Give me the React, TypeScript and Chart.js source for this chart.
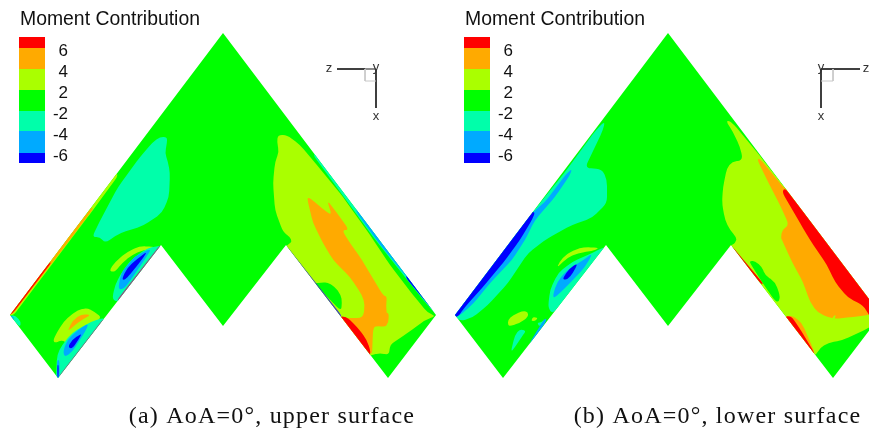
import React, { useEffect, useRef } from "react";
import { Chart, registerables } from "chart.js";

Chart.register(...registerables);

type Pt = [number, number];

const RED = "#ff0000", ORANGE = "#ffaa00", LIME = "#aaff00", GREEN = "#00ff00", TEAL = "#00ffaa", BLUE = "#00aaff", NAVY = "#0000ff";

const legendColors = [RED, ORANGE, LIME, GREEN, TEAL, BLUE, NAVY];
const legendEdges = [37, 48, 69, 90, 111, 131, 153, 163];
const legendLabels = ["6", "4", "2", "-2", "-4", "-6"];
const legendTitle = "Moment Contribution";
const captions = ["(a) AoA=0°, upper surface", "(b) AoA=0°, lower surface"];

// ---- upper surface contours ----
const upperWing: Pt[] = [[223, 33], [436, 315], [388, 378], [286, 245], [223, 326], [161, 245], [58, 378], [10, 315]];
const upperLeLime: Pt[] = [[116, 172], [5, 315], [13, 316], [90, 214], [118, 176]];
const upperLeOrange: Pt[] = [[92, 207], [5, 315], [12, 315], [59, 254], [93, 209]];
const upperLeRed: Pt[] = [[50, 262], [5, 315], [11.5, 315], [51, 263]];
const upperTipTeal: Pt[] = [[10, 315], [16, 316], [21, 322], [20, 327], [15, 322]];
const upperTipBlue: Pt[] = [[9, 315], [14, 317], [14, 321]];
const upperBlob: Pt[] = [[160, 137], [167, 137], [167, 143], [165, 153], [168, 162], [170, 173], [169, 197], [162, 213], [143, 226], [120, 233], [105, 243], [100, 237], [92, 237], [102, 217], [118, 187], [140, 157], [153, 142]];
const upperOuterLime: Pt[] = [[53, 340], [60, 327], [67, 318], [78, 310], [87, 308], [95, 312], [102, 318], [90, 325], [70, 345], [62, 340], [55, 343]];
const upperOuterOrange: Pt[] = [[67, 332], [73, 320], [82, 314], [91, 315], [83, 319], [75, 325]];
const upperOuterTeal: Pt[] = [[103, 318], [90, 322], [72, 333], [62, 345], [57, 355], [56, 380], [60, 380], [106, 320]];
const upperOuterBlue: Pt[] = [[63, 352], [67, 340], [78, 330], [89, 323], [85, 332], [72, 352], [65, 357]];
const upperOuterBlueStrip: Pt[] = [[57, 360], [59.5, 360], [59.5, 378], [57, 378]];
const upperOuterNavy: Pt[] = [[68, 347], [72, 340], [82, 333], [79, 339], [72, 349]];
const upperOuterNavyStrip: Pt[] = [[57.3, 365], [58.7, 365], [58.5, 378], [57.5, 378]];
const upperInnerLime: Pt[] = [[109, 271], [115, 262], [127, 252], [140, 246], [155, 247], [157, 248], [143, 250], [132, 255], [122, 263], [115, 272]];
const upperInnerTeal: Pt[] = [[112, 300], [115, 285], [123, 270], [133, 258], [148, 248], [158, 246], [163, 246], [120, 302]];
const upperInnerBlue: Pt[] = [[118, 290], [121, 273], [135, 256], [152, 248], [143, 262], [125, 288]];
const upperInnerNavy: Pt[] = [[122, 279], [127, 268], [137, 259], [148, 251], [140, 262], [128, 277], [124, 280]];
const upperTeEdgeA: Pt[] = [[160, 245], [162, 247], [119, 302], [117, 300]];
const upperTeEdgeB: Pt[] = [[103, 319], [104, 321], [60, 378], [59, 376]];
const upperRightTeal: Pt[] = [[313, 155], [316, 152], [442, 315], [434, 313], [420, 296], [374, 238]];
const upperRightBlue: Pt[] = [[355, 210], [360, 207], [442, 315], [435, 313], [422, 296], [376.5, 240]];
const upperRightNavy: Pt[] = [[405, 277], [409, 275], [442, 315], [436, 314]];
const upperLime: Pt[] = [[278, 135], [287, 135], [300, 145], [317, 165], [343, 197], [370, 235], [390, 265], [413, 295], [428, 313], [436, 316], [425, 320], [412, 330], [397, 340], [390, 345], [389, 355], [380, 353], [372, 355], [365, 358], [285, 250], [287, 245], [292, 242], [290, 237], [283, 232], [275, 210], [273, 183], [275, 162], [279, 152], [277, 142]];
const upperGreenBlob: Pt[] = [[321, 283], [327, 282], [335, 287], [341, 295], [342, 303], [341, 311], [314, 283]];
const upperOrange: Pt[] = [[307, 198], [310, 198], [318, 205], [332, 216], [327, 200], [340, 217], [349, 230], [342, 230], [348, 240], [362, 260], [372, 277], [383, 295], [387, 297], [386, 305], [388, 327], [375, 326], [373, 330], [372, 356], [338, 318], [363, 318], [365, 305], [362, 295], [350, 277], [333, 260], [323, 243], [313, 223]];
const upperOrangeFleck: Pt[] = [[386, 312], [389, 314], [388, 324], [386, 322]];
const upperRed: Pt[] = [[342, 316], [348, 318], [358, 328], [367, 340], [371, 353], [368, 358], [338, 318]];
const upperRightEdge: Pt[] = [[286, 245], [342, 316], [340, 318], [284, 247]];

// ---- lower surface contours ----
const lowerWing: Pt[] = [[668, 33], [881, 315], [833, 378], [731, 245], [668, 326], [606, 245], [503, 378], [455, 315]];
const lowerTeal: Pt[] = [[605, 121], [603, 130], [585, 168], [602, 169], [607, 180], [607, 203], [592, 218], [572, 225], [548, 238], [528, 253], [508, 283], [488, 305], [472, 318], [460, 321], [455, 316], [450, 315], [565, 172], [596, 130]];
const lowerBlue: Pt[] = [[572, 169], [570, 175], [555, 197], [535, 220], [525, 240], [512, 260], [490, 283], [474, 303], [458, 317], [450, 315], [533, 212], [545, 202], [567, 173]];
const lowerNavy: Pt[] = [[535, 212], [533, 218], [520, 240], [503, 263], [482, 288], [465, 307], [457, 318], [450, 315], [530, 212]];
const lowerInnerLime: Pt[] = [[557, 267], [562, 258], [573, 250], [585, 247], [600, 248], [592, 251], [578, 253], [567, 258], [560, 265]];
const lowerInnerTeal: Pt[] = [[548, 308], [550, 290], [558, 273], [572, 262], [592, 253], [600, 249], [606, 247], [553, 314]];
const lowerInnerBlue: Pt[] = [[553, 295], [557, 282], [567, 270], [582, 261], [593, 253], [585, 267], [573, 280], [560, 293], [554, 298]];
const lowerInnerNavy: Pt[] = [[562, 279], [570, 268], [578, 263], [573, 273], [567, 280]];
const lowerOuterLime: Pt[] = [[508, 325], [508, 320], [513, 315], [523, 311], [528, 312], [528, 317], [520, 323], [510, 326]];
const lowerOuterFleck: Pt[] = [[531, 321], [533, 317], [538, 318], [535, 321]];
const lowerOuterTeal: Pt[] = [[511, 351], [515, 335], [520, 329], [526, 331], [523, 335], [513, 350]];
const lowerTeTeal: Pt[] = [[537, 323], [542, 322], [545, 318], [540, 327]];
const lowerTeBlue: Pt[] = [[530, 342], [545, 318], [547, 320], [531, 344]];
const lowerLime: Pt[] = [[726, 121], [730, 121], [737, 128], [760, 156], [782, 184], [790, 193], [795, 190], [885, 315], [869, 328], [843, 340], [828, 343], [820, 348], [816, 355], [812, 356], [728, 247], [732, 245], [735, 243], [737, 238], [730, 230], [725, 220], [722, 203], [723, 187], [727, 168], [732, 162], [743, 160], [740, 147], [733, 132]];
const lowerOrange: Pt[] = [[757, 159], [760, 159], [785, 189], [790, 189], [880, 310], [869, 315], [853, 317], [833, 319], [818, 313], [810, 302], [803, 282], [792, 262], [782, 240], [781, 238], [782, 230], [789, 225], [780, 205], [767, 180]];
const lowerRed: Pt[] = [[782, 192], [785, 188], [890, 320], [872, 320], [863, 305], [848, 298], [835, 282], [827, 265], [810, 240], [800, 223]];
const lowerFleck: Pt[] = [[832, 318], [835, 315], [836, 316], [833, 321]];
const lowerTeOrange: Pt[] = [[787, 316], [793, 316], [802, 323], [808, 337], [815, 353], [812, 356], [784, 318]];
const lowerTeRed: Pt[] = [[787, 316], [792, 317], [802, 332], [815, 354], [812, 356], [784, 318]];
const lowerGreenBlob: Pt[] = [[750, 261], [755, 261], [762, 267], [765, 275], [775, 282], [780, 295], [779, 302], [775, 301], [762, 282], [750, 263]];
const lowerTeEdge: Pt[] = [[731, 245], [763, 283], [762, 285], [729, 247]];

const upperLayers: [Pt[], string][] = [
  [upperLeLime, LIME], [upperLeOrange, ORANGE], [upperLeRed, RED], [upperTipTeal, TEAL], [upperTipBlue, BLUE],
  [upperBlob, TEAL], [upperOuterLime, LIME], [upperOuterOrange, ORANGE], [upperOuterTeal, TEAL], [upperOuterBlue, BLUE],
  [upperOuterBlueStrip, BLUE], [upperOuterNavy, NAVY], [upperOuterNavyStrip, NAVY], [upperInnerLime, LIME], [upperInnerTeal, TEAL],
  [upperInnerBlue, BLUE], [upperInnerNavy, NAVY], [upperTeEdgeA, "#a04080"], [upperTeEdgeB, "#a04080"], [upperLime, LIME],
  [upperGreenBlob, GREEN], [upperOrange, ORANGE], [upperOrangeFleck, ORANGE], [upperRed, RED], [upperRightEdge, "#4030d0"],
  [upperRightTeal, TEAL], [upperRightBlue, BLUE], [upperRightNavy, NAVY],
];
const lowerLayers: [Pt[], string][] = [
  [lowerTeal, TEAL], [lowerBlue, BLUE], [lowerNavy, NAVY], [lowerInnerLime, LIME], [lowerInnerTeal, TEAL], [lowerInnerBlue, BLUE],
  [lowerInnerNavy, NAVY], [lowerOuterLime, LIME], [lowerOuterFleck, LIME], [lowerOuterTeal, TEAL], [lowerTeTeal, TEAL], [lowerTeBlue, BLUE],
  [lowerLime, LIME], [lowerOrange, ORANGE], [lowerRed, RED], [lowerFleck, LIME], [lowerTeOrange, ORANGE], [lowerTeRed, RED],
  [lowerGreenBlob, GREEN], [lowerTeEdge, RED],
];

// ---- orientation triads ----
const upperTriadZ: Pt[] = [[337, 69], [365, 69]];
const upperTriadZShade: Pt[] = [[365, 69], [376, 69]];
const upperTriadX: Pt[] = [[376, 69], [376, 108]];
const upperTriadBox: Pt[] = [[365, 69], [365, 81], [376, 81]];
const lowerTriadZ: Pt[] = [[821, 69], [860, 69]];
const lowerTriadX: Pt[] = [[821, 69], [821, 108]];
const lowerTriadBox: Pt[] = [[833, 69], [833, 81], [821, 81]];
const triadLabels: [string, number, number][] = [["z", 329, 68], ["y", 376, 67], ["x", 376, 116], ["z", 866, 68], ["y", 821, 67], ["x", 821, 116]];

// ---- legend positions per panel ----
const legendX: [number, number][] = [[19, 45], [464, 490]];
const legendLabelX = [68, 513];
const legendTitleX = [20, 465];
const captionX = [272, 717.5];

const toXY = (p: Pt[]) => p.map(([x, y]) => ({ x, y }));

export default function App() {
  const ref = useRef<HTMLCanvasElement>(null);
  useEffect(() => {
    const datasets: any[] = [];
    const poly = (pts: Pt[], color: string, clip: Pt[] | null) =>
      datasets.push({ data: toXY(pts), polyColor: color, clipTo: clip, showLine: false, pointRadius: 0 });
    const line = (pts: Pt[], color: string, width: number) =>
      datasets.push({ data: toXY(pts), showLine: true, borderColor: color, borderWidth: width, pointRadius: 0, fill: false, order: -1 });

    poly(upperWing, GREEN, null);
    upperLayers.forEach(([p, c]) => poly(p, c, upperWing));
    poly(lowerWing, GREEN, null);
    lowerLayers.forEach(([p, c]) => poly(p, c, lowerWing));
    legendX.forEach(([a, b]) => {
      legendColors.forEach((c, i) => {
        const top = legendEdges[i], bot = legendEdges[i + 1];
        poly([[a, top], [b, top], [b, bot], [a, bot]], c, null);
      });
    });
    line(upperTriadBox, "#c8c8c8", 1);
    line(lowerTriadBox, "#c8c8c8", 1);
    line(upperTriadZ, "#000000", 1.5);
    line(upperTriadZShade, "#666666", 1.5);
    line(upperTriadX, "#000000", 1.5);
    line(lowerTriadZ, "#000000", 1.5);
    line(lowerTriadX, "#000000", 1.5);

    const polygons = {
      id: "polygons",
      beforeDatasetsDraw(chart: any) {
        const { ctx, scales } = chart;
        const px = (p: { x: number; y: number }): Pt => [scales.x.getPixelForValue(p.x), scales.y.getPixelForValue(p.y)];
        const trace = (pts: { x: number; y: number }[]) => {
          ctx.beginPath();
          pts.forEach((p, i) => {
            const [X, Y] = px(p);
            if (i === 0) ctx.moveTo(X, Y);
            else ctx.lineTo(X, Y);
          });
          ctx.closePath();
        };
        // contour outline with softened corners, as a contour plot has
        const traceRound = (pts: { x: number; y: number }[], r: number) => {
          const P = pts.map(px);
          const n = P.length;
          ctx.beginPath();
          P.forEach((v, i) => {
            const a = P[(i + n - 1) % n], b = P[(i + 1) % n];
            const la = Math.hypot(a[0] - v[0], a[1] - v[1]), lb = Math.hypot(b[0] - v[0], b[1] - v[1]);
            const ra = Math.min(r, la * 0.45), rb = Math.min(r, lb * 0.45);
            const s: Pt = [v[0] + ((a[0] - v[0]) * ra) / la, v[1] + ((a[1] - v[1]) * ra) / la];
            const e: Pt = [v[0] + ((b[0] - v[0]) * rb) / lb, v[1] + ((b[1] - v[1]) * rb) / lb];
            if (i === 0) ctx.moveTo(s[0], s[1]);
            else ctx.lineTo(s[0], s[1]);
            ctx.quadraticCurveTo(v[0], v[1], e[0], e[1]);
          });
          ctx.closePath();
        };
        chart.data.datasets.forEach((d: any) => {
          if (!d.polyColor) return;
          ctx.save();
          if (d.clipTo) {
            trace(toXY(d.clipTo));
            ctx.clip();
            traceRound(d.data, 6);
          } else {
            trace(d.data);
          }
          ctx.fillStyle = d.polyColor;
          ctx.fill();
          ctx.restore();
        });
      },
      afterDraw(chart: any) {
        const { ctx, scales } = chart;
        const X = (v: number) => scales.x.getPixelForValue(v);
        const Y = (v: number) => scales.y.getPixelForValue(v);
        ctx.save();
        ctx.fillStyle = "#111111";
        ctx.textBaseline = "middle";
        legendTitleX.forEach((x) => {
          ctx.textAlign = "left";
          ctx.font = '19.4px "Liberation Sans"';
          ctx.fillText(legendTitle, X(x), Y(19.5));
        });
        legendLabelX.forEach((x) => {
          ctx.textAlign = "right";
          ctx.font = '17px "Liberation Sans"';
          legendLabels.forEach((t, i) => ctx.fillText(t, X(x), Y(51 + i * 21)));
        });
        ctx.fillStyle = "#333333";
        ctx.textAlign = "center";
        ctx.font = '13px "Liberation Sans"';
        triadLabels.forEach(([t, x, y]) => ctx.fillText(t, X(x), Y(y)));
        ctx.fillStyle = "#111111";
        ctx.font = '24px "Liberation Serif"';
        (ctx as any).letterSpacing = "1.2px";
        captions.forEach((t, i) => ctx.fillText(t, X(captionX[i]), Y(417)));
        ctx.restore();
      },
    };

    const chart = new Chart(ref.current!, {
      type: "scatter",
      data: { datasets },
      options: {
        animation: false,
        responsive: false,
        layout: { padding: 0 },
        plugins: { legend: { display: false }, tooltip: { enabled: false }, title: { display: false } },
        scales: {
          x: { type: "linear", display: false, min: 0, max: 869 },
          y: { type: "linear", display: false, min: 0, max: 431, reverse: true },
        },
      },
      plugins: [polygons],
    } as any);
    return () => chart.destroy();
  }, []);
  return <canvas ref={ref} width={869} height={431} style={{ position: "absolute", left: 0, top: 0, display: "block" }} />;
}
